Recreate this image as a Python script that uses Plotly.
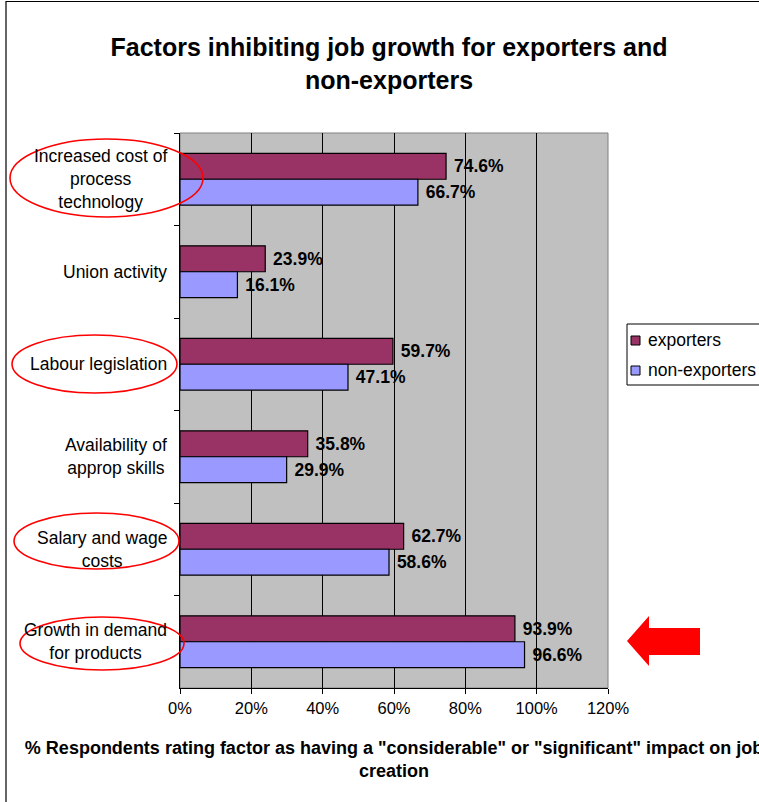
import plotly.graph_objects as go

# Factors, listed top to bottom as they appear on the chart
factors = [
    "Increased cost of<br>process<br>technology",
    "Union activity",
    "Labour legislation",
    "Availability of<br>approp skills",
    "Salary and wage<br>costs",
    "Growth in demand<br>for products",
]
exporters = [74.6, 23.9, 59.7, 35.8, 62.7, 93.9]
non_exporters = [66.7, 16.1, 47.1, 29.9, 58.6, 96.6]
x_ticks = [0, 20, 40, 60, 80, 100, 120]
x_tick_labels = [f"{v}%" for v in x_ticks]
highlighted = [0, 2, 4, 5]  # factors ringed in red

W, H = 759, 802
L, R, T, B = 180, 608, 133, 688  # plot area in pixels

def px(x):
    return (x - L) / (R - L)

def py(y):
    return (B - y) / (B - T)

FONT = "Liberation Sans, Arial, sans-serif"
C_EXP = "#993366"
C_NON = "#9999FF"

fig = go.Figure()
for name, vals, col in [("exporters", exporters, C_EXP),
                        ("non-exporters", non_exporters, C_NON)]:
    fig.add_trace(go.Bar(
        name=name, y=factors, x=vals, orientation="h",
        marker=dict(color=col, line=dict(color="black", width=1.2)),
        text=vals, texttemplate="\u00a0%{x:.1f}%", textposition="outside",
        textfont=dict(family=FONT, size=17.5, color="black", weight="bold"),
        cliponaxis=False, constraintext="none", showlegend=False,
    ))

shapes = []
# outer chart frame
shapes.append(dict(type="rect", xref="paper", yref="paper",
                   x0=px(6), x1=px(W + 20), y0=py(1.5), y1=py(H + 20),
                   line=dict(color="black", width=1.2), layer="below"))
# plot area frame
shapes.append(dict(type="rect", xref="paper", yref="paper",
                   x0=0, x1=1, y0=0, y1=1,
                   line=dict(color="#808080", width=1), layer="below"))

# red ellipses around highlighted factors (pixel boxes)
ellipse_boxes = {0: (10, 203, 139, 217), 2: (12, 177, 335, 393),
                 4: (14, 179, 513, 569), 5: (20, 184, 617, 670)}
for i in highlighted:
    x0, x1, y0, y1 = ellipse_boxes[i]
    shapes.append(dict(type="circle", xref="paper", yref="paper",
                       x0=px(x0), x1=px(x1), y0=py(y1), y1=py(y0),
                       line=dict(color="red", width=1.6)))

# red arrow pointing at the last factor
arrow = [(627, 641), (649, 616), (649, 628), (700, 628),
         (700, 655), (649, 655), (649, 666)]
path = "M " + " L ".join(f"{px(a):.5f},{py(b):.5f}" for a, b in arrow) + " Z"
shapes.append(dict(type="path", xref="paper", yref="paper", path=path,
                   fillcolor="#FF0000", line=dict(color="#FF0000", width=0)))

# legend box with swatches
shapes.append(dict(type="rect", xref="paper", yref="paper",
                   x0=px(627), x1=px(W + 30), y0=py(385), y1=py(324),
                   fillcolor="white", line=dict(color="black", width=1)))
annotations = []
for yy, col, label in [(340, C_EXP, "exporters"), (370, C_NON, "non-exporters")]:
    shapes.append(dict(type="rect", xref="paper", yref="paper",
                       x0=px(631), x1=px(640), y0=py(yy + 5), y1=py(yy - 4),
                       fillcolor=col, line=dict(color="black", width=1)))
    annotations.append(dict(xref="paper", yref="paper", x=px(646), y=py(yy),
                            text=label, showarrow=False, xanchor="left",
                            yanchor="middle",
                            font=dict(family=FONT, size=17.5, color="black")))

# category labels, right-aligned block with centred lines
for f in factors:
    annotations.append(dict(xref="paper", yref="y", x=px(169), y=f,
                            text=f, showarrow=False, xanchor="right",
                            yanchor="middle", align="center",
                            font=dict(family=FONT, size=17.5, color="black")))

fig.update_layout(
    width=W, height=H,
    margin=dict(l=L, r=W - R, t=T, b=H - B, autoexpand=False),
    paper_bgcolor="white", plot_bgcolor="#C0C0C0",
    barmode="group", bargap=0.44, bargroupgap=0,
    title=dict(text="Factors inhibiting job growth for exporters and<br>non-exporters",
               xref="container", x=389 / W, xanchor="center",
               yref="container", y=1 - 56 / H, yanchor="middle",
               font=dict(family=FONT, size=25, color="black", weight="bold")),
    xaxis=dict(range=[0, 120], tickvals=x_ticks, ticktext=x_tick_labels,
               showgrid=True, gridcolor="black", gridwidth=1,
               showline=True, linecolor="black", linewidth=1,
               ticks="outside", ticklen=5, tickcolor="black",
               tickfont=dict(family=FONT, size=16.5, color="black"),
               zeroline=False,
               title=dict(text='% Respondents rating factor as having a "considerable" or "significant" impact on job<br>creation',
                          font=dict(family=FONT, size=18, color="black", weight="bold"),
                          standoff=25)),
    yaxis=dict(categoryorder="array", categoryarray=factors,
               autorange="reversed", showticklabels=False,
               showgrid=False, showline=True, linecolor="black", linewidth=1,
               ticks="outside", tickson="boundaries", ticklen=5,
               tickcolor="black", zeroline=False),
    shapes=shapes, annotations=annotations,
)

fig.write_html("out.html")
